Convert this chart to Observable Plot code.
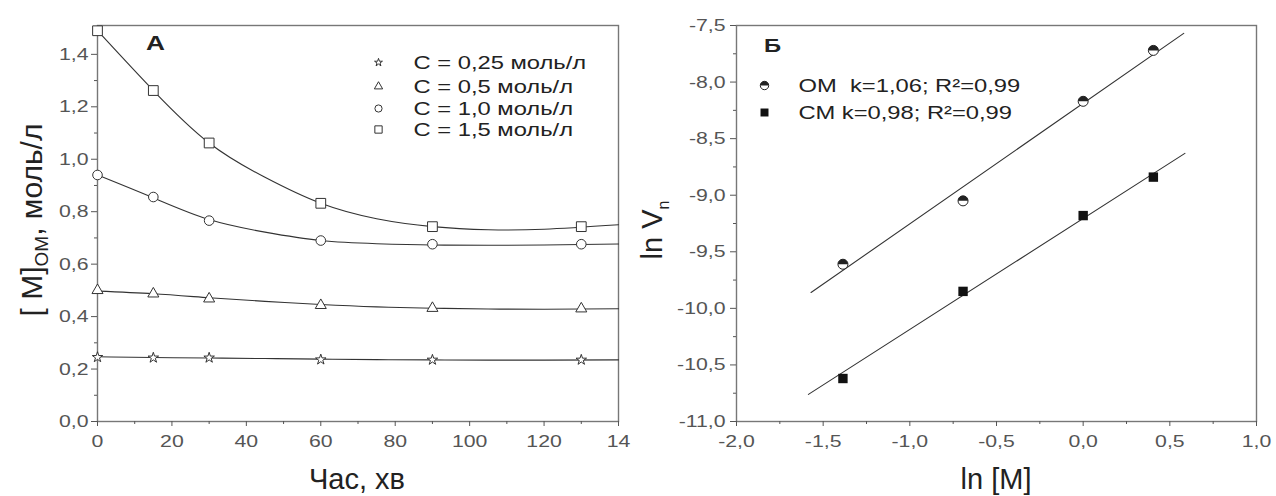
<!DOCTYPE html>
<html><head><meta charset="utf-8">
<script src="https://cdn.jsdelivr.net/npm/d3@7"></script>
<script src="https://cdn.jsdelivr.net/npm/@observablehq/plot@0.6"></script>
<style>
body{margin:0;background:#fff;width:1276px;height:496px;overflow:hidden;position:relative;font-family:"Liberation Sans",Arial,sans-serif}
#a{position:absolute;left:0;top:0}
#b{position:absolute;left:620px;top:0}
</style></head><body>
<div id="a"></div><div id="b"></div>
<script>
// ---------- Panel А data ----------
const timeMin = [0, 15, 30, 60, 90, 130];
const conc025 = [0.245, 0.243, 0.243, 0.236, 0.235, 0.235];
const conc05  = [0.500, 0.487, 0.468, 0.443, 0.432, 0.430];
const conc10  = [0.940, 0.856, 0.766, 0.690, 0.676, 0.676];
const conc15  = [1.490, 1.262, 1.062, 0.832, 0.743, 0.743];
// fitted curves
const fitTime = [0, 15, 30, 45, 60, 75, 90, 105, 120, 140];
const fit025 = [0.247, 0.244, 0.242, 0.240, 0.238, 0.236, 0.235, 0.234, 0.234, 0.235];
const fit05  = [0.497, 0.487, 0.472, 0.458, 0.446, 0.437, 0.432, 0.429, 0.428, 0.430];
const fit10  = [0.940, 0.853, 0.770, 0.722, 0.690, 0.678, 0.673, 0.672, 0.673, 0.677];
const fit15  = [1.490, 1.262, 1.062, 0.931, 0.832, 0.773, 0.743, 0.731, 0.733, 0.750];
const seriesA = ["C = 0,25 моль/л", "C = 0,5 моль/л", "C = 1,0 моль/л", "C = 1,5 моль/л"];
const symbolsA = ["star", "triangle", "circle", "square"];
const yTicksA = [0, 0.2, 0.4, 0.6, 0.8, 1.0, 1.2, 1.4];
const yMinorA = [0.1, 0.3, 0.5, 0.7, 0.9, 1.1, 1.3, 1.5];
const xTicksA = [0, 20, 40, 60, 80, 100, 120, 140];
const xMinorA = [10, 30, 50, 70, 90, 110, 130];

// ---------- Panel Б data ----------
const lnM = [-1.386, -0.693, 0.0, 0.405];
const lnV_OM = [-9.61, -9.05, -8.17, -7.72];
const lnV_CM = [-10.62, -9.85, -9.18, -8.84];
const fitX_OM = [-1.57, 0.58];
const fitY_OM = [-9.86, -7.57];
const fitX_CM = [-1.585, 0.587];
const fitY_CM = [-10.76, -8.63];
const seriesB = ["ОМ  k=1,06; R²=0,99", "СМ k=0,98; R²=0,99"];
const yTicksB = [-11, -10.5, -10, -9.5, -9, -8.5, -8, -7.5];
const yMinorB = [-10.75, -10.25, -9.75, -9.25, -8.75, -8.25, -7.75];
const xTicksB = [-2, -1.5, -1, -0.5, 0, 0.5, 1];
const xMinorB = [-1.75, -1.25, -0.75, -0.25, 0.25, 0.75];

const comma1 = d => d.toFixed(1).replace(".", ",");
const ink = "#333";

// tables
const concs = [conc025, conc05, conc10, conc15];
const fits = [fit025, fit05, fit10, fit15];
const ptsA = concs.flatMap((arr, s) => arr.map((c, i) => ({t: timeMin[i], c, s})));
const fitA = fits.flatMap((arr, s) => arr.map((c, i) => ({t: fitTime[i], c, s})));

const legendRowsA = [37, 61, 83, 104];
const sizesA = [3.3, 4.1, 4.8, 5.5];

const marksA = [
  Plot.frame({stroke: "#777", strokeWidth: 1.4}),
  Plot.axisY({ticks: yTicksA, tickFormat: comma1, tickSize: 6, tickPadding: 3, label: null}),
  Plot.axisY({ticks: yMinorA.filter(d => d <= 1.51), tickFormat: () => "", tickSize: 3, label: null}),
  Plot.axisX({ticks: xTicksA, tickFormat: d => d === 140 ? "14" : String(d), tickSize: 5, tickPadding: 8, label: null}),
  Plot.axisX({ticks: xMinorA, tickFormat: () => "", tickSize: 3, label: null}),
  Plot.line(fitA, {x: "t", y: "c", z: "s", stroke: ink, strokeWidth: 1.1, curve: "natural"}),
  ...symbolsA.map((sym, s) => Plot.dot(ptsA.filter(d => d.s === s), {x: "t", y: "c", symbol: sym, r: sizesA[s], stroke: ink, strokeWidth: 1, fill: "white"})),
  Plot.text(["А"], {frameAnchor: "top-left", dx: 58, dy: 18, fontSize: 21, fontWeight: "bold", fill: "#222", textAnchor: "middle", lineAnchor: "middle"}),
  ...seriesA.map((lab, s) => Plot.dot([lab], {frameAnchor: "top-left", dx: 281, dy: legendRowsA[s], symbol: symbolsA[s], r: sizesA[s] * 0.75, stroke: ink, strokeWidth: 1, fill: "white"})),
  ...seriesA.map((lab, s) => Plot.text([lab], {frameAnchor: "top-left", dx: 316, dy: legendRowsA[s], text: d => d, fontSize: 19, fill: "#222", textAnchor: "start", lineAnchor: "middle"}))
];

const chartA = Plot.plot({
  width: 632, height: 496,
  marginLeft: 97, marginRight: 14, marginTop: 25, marginBottom: 75,
  x: {domain: [0, 140]},
  y: {domain: [0, 1.51]},
  style: {fontFamily: '"Liberation Sans", Arial, sans-serif', fontSize: "17px", color: "#555", background: "transparent"},
  marks: marksA
});

// Panel Б
const ptsOM = lnM.map((x, i) => ({x, y: lnV_OM[i]}));
const ptsCM = lnM.map((x, i) => ({x, y: lnV_CM[i]}));
const lineOM = fitX_OM.map((x, i) => ({x, y: fitY_OM[i]}));
const lineCM = fitX_CM.map((x, i) => ({x, y: fitY_CM[i]}));
const topHalf = {draw(ctx, size) { const r = Math.sqrt(size / Math.PI); ctx.moveTo(r, 0); ctx.arc(0, 0, r, 0, Math.PI, true); ctx.closePath(); }};
const legendRowsB = [60, 87];

const chartB = Plot.plot({
  width: 656, height: 496,
  marginLeft: 116, marginRight: 20, marginTop: 25, marginBottom: 75,
  x: {domain: [-2, 1]},
  y: {domain: [-11, -7.5]},
  style: {fontFamily: '"Liberation Sans", Arial, sans-serif', fontSize: "17px", color: "#555", background: "transparent"},
  marks: [
    Plot.frame({stroke: "#777", strokeWidth: 1.4}),
    Plot.axisY({ticks: yTicksB, tickFormat: comma1, tickSize: 6, tickPadding: 5, label: null}),
    Plot.axisY({ticks: yMinorB, tickFormat: () => "", tickSize: 3, label: null}),
    Plot.axisX({ticks: xTicksB, tickFormat: comma1, tickSize: 5, tickPadding: 8, label: null}),
    Plot.axisX({ticks: xMinorB, tickFormat: () => "", tickSize: 3, label: null}),
    Plot.line(lineOM, {x: "x", y: "y", stroke: ink, strokeWidth: 1.1}),
    Plot.line(lineCM, {x: "x", y: "y", stroke: ink, strokeWidth: 1.1}),
    Plot.dot(ptsOM, {x: "x", y: "y", r: 5, fill: "white", stroke: "#222", strokeWidth: 1}),
    Plot.dot(ptsOM, {x: "x", y: "y", r: 5, symbol: topHalf, fill: "#222"}),
    Plot.dot(ptsCM, {x: "x", y: "y", r: 5.3, symbol: "square", fill: "#111"}),
    Plot.text(["Б"], {frameAnchor: "top-left", dx: 36, dy: 20, fontSize: 19, fontWeight: "bold", fill: "#222", textAnchor: "middle", lineAnchor: "middle"}),
    Plot.dot([seriesB[0]], {frameAnchor: "top-left", dx: 28, dy: legendRowsB[0], r: 4.2, fill: "white", stroke: "#222", strokeWidth: 1}),
    Plot.dot([seriesB[0]], {frameAnchor: "top-left", dx: 28, dy: legendRowsB[0], r: 4.2, symbol: topHalf, fill: "#222"}),
    Plot.dot([seriesB[1]], {frameAnchor: "top-left", dx: 28, dy: legendRowsB[1], r: 4.5, symbol: "square", fill: "#111"}),
    ...seriesB.map((lab, s) => Plot.text([lab], {frameAnchor: "top-left", dx: 62, dy: legendRowsB[s], text: d => d, fontSize: 19, fill: "#222", textAnchor: "start", lineAnchor: "middle"}))
  ]
});

// stretch text horizontally (the reference lettering is wide)
function stretch(svg, s) {
  svg.querySelectorAll("text").forEach(t => {
    const tr = t.getAttribute("transform");
    if (tr) t.setAttribute("transform", tr + ` scale(${s},1)`);
    else {
      const x = +(t.getAttribute("x") || 0), y = +(t.getAttribute("y") || 0);
      t.removeAttribute("x"); t.removeAttribute("y");
      t.setAttribute("transform", `translate(${x},${y}) scale(${s},1)`);
    }
  });
}
stretch(chartA, 1.25);
stretch(chartB, 1.25);

function addLabel(svg, x, y, rotate, parts, size) {
  const t = d3.select(svg).append("text")
    .attr("transform", `translate(${x},${y})` + (rotate ? " rotate(-90)" : ""))
    .attr("text-anchor", "middle").attr("fill", "#222")
    .attr("font-size", size).attr("font-family", '"Liberation Sans", Arial, sans-serif');
  parts.forEach(p => {
    const ts = t.append("tspan").text(p.text);
    if (p.dy) ts.attr("dy", p.dy);
    if (p.size) ts.attr("font-size", p.size);
  });
}
addLabel(chartA, 357, 489, false, [{text: "Час, хв"}], 29);
addLabel(chartA, 42, 220, true, [{text: "[ M]"}, {text: "ОМ", dy: 6, size: 19}, {text: ", моль/л", dy: -6}], 30);
addLabel(chartB, 376, 489, false, [{text: "ln [M]"}], 29);
addLabel(chartB, 42, 230, true, [{text: "ln V"}, {text: "n", dy: 7, size: 16}], 29);

document.getElementById("a").appendChild(chartA);
document.getElementById("b").appendChild(chartB);
</script>
</body></html>
